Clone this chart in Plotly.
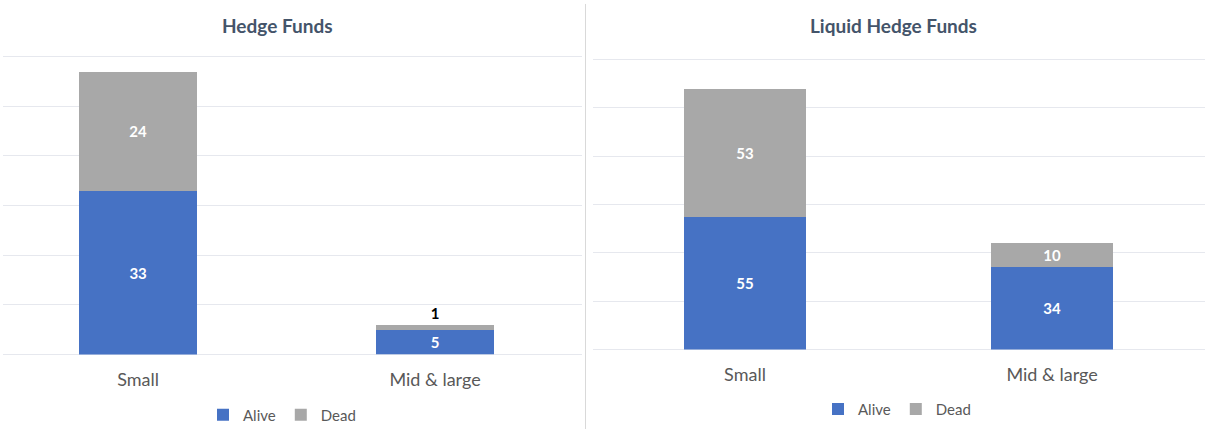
import plotly.graph_objects as go

categories = ["Small", "Mid & large"]
hf_alive = [33, 5]
hf_dead = [24, 1]
lhf_alive = [55, 34]
lhf_dead = [53, 10]
titles = ["Hedge Funds", "Liquid Hedge Funds"]
series_names = ["Alive", "Dead"]

W, H = 1205, 432
BLUE = "#4672c4"
GRAY = "#a8a8a8"
FONT = "Lato, Carlito, 'Open Sans', sans-serif"
xpos = [0, 1]

def px(x):
    return x / W

def py(y):
    return (H - y) / H

fig = go.Figure()

lbl = dict(color="white", size=15, family=FONT, weight="bold")
# Left panel
fig.add_trace(go.Bar(x=xpos, y=hf_alive, name=series_names[0], marker=dict(color=BLUE, line=dict(width=0)),
                     width=0.4, text=hf_alive, textposition="inside", insidetextanchor="middle",
                     textfont=lbl, xaxis="x", yaxis="y", legend="legend"))
fig.add_trace(go.Bar(x=xpos, y=hf_dead, name=series_names[1], marker=dict(color=GRAY, line=dict(width=0)),
                     width=0.4, text=hf_dead, textposition=["inside", "outside"], insidetextanchor="middle",
                     insidetextfont=lbl,
                     outsidetextfont=dict(color="black", size=15, family=FONT, weight="bold"),
                     cliponaxis=False, xaxis="x", yaxis="y", legend="legend"))
# Right panel
fig.add_trace(go.Bar(x=xpos, y=lhf_alive, name=series_names[0], marker=dict(color=BLUE, line=dict(width=0)),
                     width=0.4, text=lhf_alive, textposition="inside", insidetextanchor="middle",
                     textfont=lbl, xaxis="x2", yaxis="y2", legend="legend2"))
fig.add_trace(go.Bar(x=xpos, y=lhf_dead, name=series_names[1], marker=dict(color=GRAY, line=dict(width=0)),
                     width=0.4, text=lhf_dead, textposition="inside", insidetextanchor="middle",
                     textfont=lbl, xaxis="x2", yaxis="y2", legend="legend2"))

grid = "#e6e8ee"
axis_common = dict(showgrid=False, zeroline=False, showline=False, ticks="",
                   tickmode="array", tickvals=xpos, ticktext=categories, ticklabelstandoff=12,
                   tickfont=dict(size=18, color="#595959", family=FONT))
ycommon = dict(showgrid=True, gridcolor=grid, gridwidth=1, zeroline=True, zerolinecolor=grid,
               zerolinewidth=1, showticklabels=False, ticks="", showline=False, fixedrange=True)

fig.update_layout(
    width=W, height=H,
    margin=dict(l=0, r=0, t=0, b=0),
    paper_bgcolor="white", plot_bgcolor="white",
    barmode="stack",
    font=dict(family=FONT),
    xaxis=dict(domain=[px(3), px(582)], range=[-0.455, 1.495], anchor="y", **axis_common),
    yaxis=dict(domain=[py(357), py(47)], range=[0, 62], tickmode="array",
               tickvals=[0, 10, 20, 30, 40, 50, 60], anchor="x", **ycommon),
    xaxis2=dict(domain=[px(593), 1.0], range=[-0.495, 1.498], anchor="y2", **axis_common),
    yaxis2=dict(domain=[py(352), py(50.3)], range=[0, 124], tickmode="array",
                tickvals=[0, 20, 40, 60, 80, 100, 120], anchor="x2", **ycommon),
    legend=dict(orientation="h", x=px(282), y=py(418), xanchor="center", yanchor="middle",
                font=dict(size=15, color="#595959", family=FONT), itemwidth=30,
                bgcolor="rgba(0,0,0,0)", traceorder="normal"),
    legend2=dict(orientation="h", x=px(897), y=py(412), xanchor="center", yanchor="middle",
                 font=dict(size=15, color="#595959", family=FONT), itemwidth=30,
                 bgcolor="rgba(0,0,0,0)", traceorder="normal"),
    annotations=[
        dict(text=titles[0], x=px(277), y=py(26), xref="paper", yref="paper", showarrow=False,
             font=dict(size=19, color="#44546a", family=FONT, weight="bold"), xanchor="center", yanchor="middle"),
        dict(text=titles[1], x=px(893), y=py(26), xref="paper", yref="paper", showarrow=False,
             font=dict(size=19, color="#44546a", family=FONT, weight="bold"), xanchor="center", yanchor="middle"),
    ],
    shapes=[dict(type="line", xref="paper", yref="paper", x0=px(585.5), x1=px(585.5), y0=py(432), y1=py(4),
                 line=dict(color="#d9d9d9", width=1))],
)
fig.update_traces(textangle=0, constraintext="none")

fig.write_html("out.html")
